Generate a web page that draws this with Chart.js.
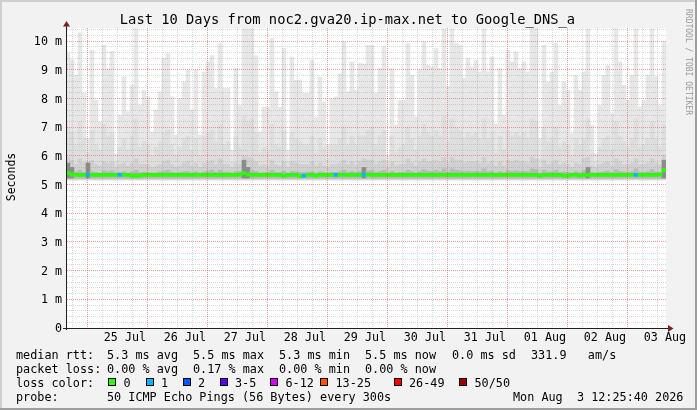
<!DOCTYPE html>
<html><head><meta charset="utf-8">
<script src="https://cdn.jsdelivr.net/npm/chart.js@4/dist/chart.umd.min.js"></script>
<style>
html,body{margin:0;padding:0;background:#f2f2f2;}
#wrap{position:relative;width:697px;height:410px;overflow:hidden;font-family:"DejaVu Sans Mono",monospace;color:#000;}
#c{position:absolute;left:0;top:0;}
.abs{position:absolute;white-space:pre;}
#title{left:0;top:11px;width:695px;text-align:center;font-size:13.75px;line-height:16px;}
.lg{font-size:11.8px;line-height:14px;}
.box{width:6px;height:6px;border:1px solid #000;}
#ylab{left:-39px;top:170px;width:100px;height:14px;line-height:14px;text-align:center;font-size:11.5px;transform:rotate(-90deg);}
#wm{left:638px;top:54px;width:100px;height:10px;line-height:10px;text-align:center;font-size:8px;color:#9a9a9a;transform:rotate(90deg);}
</style></head><body>
<div id="wrap"><canvas id="c" width="697" height="410"></canvas></div>
<script>
// ---- data ----
const titleText = 'Last 10 Days from noc2.gva20.ip-max.net to Google_DNS_a';
const startHours = -(11 + 34/60 + 20/3600);   // Jul 24 12:25:40, hours relative to 25 Jul 00:00
const spanHours = 240;
const stepHours = 1.6;
const dayLabels = ['25 Jul','26 Jul','27 Jul','28 Jul','29 Jul','30 Jul','31 Jul','01 Aug','02 Aug','03 Aug'];
const yTickLabels = ['0','1 m','2 m','3 m','4 m','5 m','6 m','7 m','8 m','9 m','10 m'];

const smokeMax = [
 9.57,9.35,8.81,10.3,8.18,6.61,9.69,7.94,7.19,9.86,
 9.05,9.65,6.08,7.42,8.76,7.54,8.47,10.44,7.77,8.29,
 8.06,6.84,7.6,8.24,9.4,9.57,8.06,6.73,8.0,8.58,
 9.0,7.6,9.0,6.73,8.93,9.28,9.5,8.35,9.92,8.35,
 8.35,6.2,9.05,7.77,10.44,10.44,10.44,9.5,6.84,7.7,
 7.7,10.1,8.24,7.7,9.75,6.2,9.45,8.64,8.64,8.18,
 8.18,9.34,7.36,8.76,7.88,6.4,8.0,8.06,8.87,9.98,
 8.24,9.28,8.29,9.22,9.2,9.86,9.86,8.18,9.05,9.8,
 6.0,9.05,7.07,7.94,7.94,9.92,8.81,7.36,9.0,9.98,
 9.16,9.1,9.75,9.05,10.44,8.41,10.44,9.92,9.86,8.7,
 9.4,9.1,9.34,8.93,10.44,8.93,9.45,7.12,9.05,7.42,
 9.69,9.28,9.63,9.05,9.28,8.93,10.44,10.44,6.61,9.86,
 8.58,8.93,9.92,7.77,8.58,8.29,6.78,8.81,8.29,8.93,
 10.44,7.07,6.08,7.77,8.81,9.16,7.48,10.44,9.28,8.47,
 7.94,8.81,10.44,7.71,7.94,8.81,10.44,8.76,7.77,9.98];
const smokeP90 = [
 7.0,6.8,6.4,7.2,6.6,6.1,6.9,6.4,6.2,7.1,
 6.7,6.8,5.8,6.3,6.6,6.2,6.7,7.3,6.3,6.5,
 6.4,6.0,6.3,6.5,6.8,6.9,6.4,6.0,6.3,6.6,
 6.7,6.2,6.6,6.0,6.7,6.8,6.9,6.5,7.1,6.4,
 6.5,5.8,6.7,6.3,7.4,7.2,7.3,6.8,6.1,6.3,
 6.2,7.1,6.4,6.3,6.9,5.8,6.8,6.6,6.5,6.4,
 6.4,6.7,6.1,6.6,6.3,5.9,6.4,6.4,6.6,7.0,
 6.4,6.7,6.4,6.7,6.7,6.9,7.0,6.4,6.7,6.9,
 5.8,6.7,6.1,6.3,6.4,7.0,6.6,6.2,6.7,7.1,
 6.8,6.7,6.9,6.7,7.4,6.5,7.3,7.0,6.9,6.6,
 6.8,6.7,6.8,6.6,7.3,6.6,6.8,6.1,6.7,6.2,
 6.9,6.7,6.8,6.7,6.8,6.6,7.3,7.2,5.9,7.0,
 6.5,6.6,7.0,6.3,6.5,6.4,6.0,6.6,6.4,6.6,
 7.3,6.1,5.8,6.3,6.6,6.7,6.2,7.2,6.7,6.5,
 6.3,6.6,7.3,6.3,6.4,6.6,7.2,6.6,6.3,7.1];
const smokeP75 = [
 5.95,5.85,5.7,5.9,5.75,5.8,5.85,5.7,5.65,5.8,
 5.75,5.8,5.6,5.7,5.75,5.65,5.75,5.9,5.7,5.7,
 5.7,5.6,5.65,5.7,5.8,5.85,5.7,5.6,5.65,5.75,
 5.8,5.65,5.75,5.6,5.75,5.8,5.85,5.7,5.9,5.7,
 5.7,5.6,5.75,5.7,6.0,5.95,5.9,5.8,5.65,5.7,
 5.65,5.85,5.7,5.65,5.8,5.6,5.8,5.75,5.7,5.7,
 5.7,5.8,5.65,5.75,5.65,5.6,5.7,5.7,5.75,5.85,
 5.7,5.8,5.7,5.8,5.9,5.85,5.85,5.7,5.8,5.85,
 5.6,5.8,5.65,5.7,5.7,5.9,5.75,5.65,5.8,5.9,
 5.8,5.8,5.85,5.8,5.95,5.75,5.95,5.85,5.85,5.75,
 5.8,5.8,5.8,5.75,5.95,5.75,5.8,5.65,5.8,5.65,
 5.85,5.8,5.85,5.8,5.8,5.75,5.95,5.9,5.6,5.85,
 5.7,5.75,5.85,5.7,5.75,5.7,5.6,5.75,5.7,5.9,
 5.95,5.65,5.6,5.7,5.75,5.8,5.65,5.9,5.8,5.7,
 5.7,5.75,5.9,5.7,5.7,5.75,5.9,5.75,5.7,6.0];
const smokeP60 = [
 5.75,5.6,5.45,5.5,5.42,5.75,5.45,5.42,5.4,5.48,
 5.45,5.48,5.4,5.42,5.45,5.4,5.44,5.5,5.42,5.43,
 5.42,5.4,5.41,5.44,5.47,5.5,5.43,5.4,5.42,5.45,
 5.46,5.41,5.45,5.4,5.44,5.47,5.5,5.43,5.5,5.43,
 5.44,5.4,5.46,5.45,5.85,5.6,5.5,5.46,5.4,5.42,
 5.42,5.5,5.43,5.42,5.47,5.4,5.46,5.44,5.43,5.43,
 5.43,5.46,5.41,5.44,5.42,5.4,5.43,5.43,5.45,5.5,
 5.43,5.46,5.43,5.46,5.6,5.48,5.5,5.43,5.46,5.5,
 5.4,5.46,5.41,5.43,5.43,5.5,5.45,5.41,5.46,5.52,
 5.47,5.46,5.5,5.46,5.55,5.44,5.55,5.5,5.48,5.45,
 5.47,5.46,5.47,5.45,5.55,5.45,5.47,5.41,5.46,5.42,
 5.48,5.46,5.48,5.46,5.47,5.45,5.55,5.52,5.4,5.5,
 5.44,5.45,5.5,5.42,5.44,5.43,5.4,5.45,5.43,5.5,
 5.6,5.42,5.4,5.43,5.45,5.47,5.42,5.52,5.46,5.44,
 5.43,5.45,5.55,5.43,5.43,5.45,5.52,5.45,5.43,5.85];
const medianRtt = [
 5.40,5.35,5.34,5.34,5.34,5.34,5.34,5.34,5.34,5.34,
 5.34,5.34,5.34,5.34,5.34,5.34,5.31,5.31,5.32,5.34,
 5.34,5.34,5.34,5.34,5.34,5.34,5.34,5.34,5.34,5.34,
 5.34,5.34,5.34,5.34,5.34,5.34,5.34,5.34,5.34,5.34,
 5.34,5.34,5.34,5.35,5.40,5.35,5.34,5.34,5.34,5.34,
 5.34,5.34,5.34,5.34,5.31,5.34,5.34,5.34,5.30,5.31,
 5.34,5.34,5.31,5.34,5.34,5.34,5.34,5.34,5.34,5.34,
 5.34,5.34,5.34,5.34,5.34,5.35,5.34,5.34,5.34,5.34,
 5.34,5.34,5.34,5.34,5.34,5.34,5.34,5.34,5.34,5.34,
 5.34,5.34,5.34,5.34,5.34,5.34,5.34,5.34,5.34,5.34,
 5.34,5.34,5.34,5.34,5.34,5.34,5.34,5.34,5.34,5.34,
 5.34,5.34,5.34,5.34,5.34,5.34,5.34,5.34,5.31,5.34,
 5.34,5.34,5.34,5.34,5.31,5.31,5.34,5.34,5.31,5.34,
 5.34,5.34,5.34,5.34,5.34,5.34,5.34,5.34,5.34,5.34,
 5.34,5.34,5.34,5.34,5.34,5.34,5.34,5.34,5.35,5.50];
const smokeFloor = [5.15, 5.17, 5.19, 5.23];   // lower edge of the four smoke bands
const lossCols = [5, 13, 59, 67, 74, 142];
const lossCounts = [1, 1, 1, 1, 1, 1];
const lossBuckets = [0, 1, 2, 3, 6, 13, 26, 50];
const lossLabels = ['0','1','2','3-5','6-12','13-25','26-49','50/50'];
const lossColors = ['#26ff00','#00b8ff','#0059ff','#5e00ff','#dd00ff','#ff5500','#ff0000','#a10000'];

const rttStats = ['5.3 ms avg','5.5 ms max','5.3 ms min','5.5 ms now','0.0 ms sd','331.9   am/s'];
const lossStats = ['0.00 % avg','0.17 % max','0.00 % min','0.00 % now'];
const probeText = '50 ICMP Echo Pings (56 Bytes) every 300s';
const stampText = 'Mon Aug  3 12:25:40 2026';

// ---- derived tables ----
const N = smokeMax.length;
const colX = smokeMax.map((_, i) => startHours + stepHours * (i + 0.5));
const lossPerCol = new Array(N).fill(0);
lossCols.forEach((c, j) => { lossPerCol[c] = lossCounts[j]; });
function lossColor(n) { let k = 0; for (let j = 0; j < lossBuckets.length; j++) if (n >= lossBuckets[j]) k = j; return lossColors[k]; }
const band = (arr, floor) => arr.map((v, i) => ({x: colX[i], y: [floor, v]}));

const majorGrid = 'rgba(222,80,80,0.55)';
const minorGrid = 'rgba(143,143,143,0.34)';
const monoFont = 'DejaVu Sans Mono';

const barBase = {type: 'bar', grouped: false, borderWidth: 0, barPercentage: 1, categoryPercentage: 1};

const frame = {
  id: 'frame',
  beforeDraw(chart) {
    const {ctx, chartArea: a} = chart;
    ctx.save();
    ctx.fillStyle = '#f2f2f2'; ctx.fillRect(0, 0, chart.width, chart.height);
    ctx.fillStyle = '#cfcfcf'; ctx.fillRect(0, 0, chart.width, 2); ctx.fillRect(0, 0, 2, chart.height);
    ctx.fillStyle = '#9e9e9e'; ctx.fillRect(0, chart.height - 2, chart.width, 2); ctx.fillRect(chart.width - 2, 0, 2, chart.height);
    ctx.fillStyle = '#ffffff'; ctx.fillRect(a.left, a.top, a.right - a.left, a.bottom - a.top);
    ctx.restore();
  },
  afterDraw(chart) {
    const {ctx, chartArea: a} = chart;
    const x0 = Math.round(a.left) + 0.5, y0 = Math.round(chart.scales.y.getPixelForValue(0)) + 0.5;
    ctx.save();
    ctx.strokeStyle = '#1f1f1f'; ctx.lineWidth = 1;
    ctx.beginPath(); ctx.moveTo(a.left - 3, y0); ctx.lineTo(a.right + 3, y0); ctx.stroke();
    ctx.beginPath(); ctx.moveTo(x0, a.bottom + 2); ctx.lineTo(x0, a.top - 3); ctx.stroke();
    ctx.fillStyle = '#7f1f1f';
    ctx.beginPath(); ctx.moveTo(x0 - 3.5, a.top - 1.5); ctx.lineTo(x0 + 3.5, a.top - 1.5); ctx.lineTo(x0, a.top - 7); ctx.closePath(); ctx.fill();
    ctx.beginPath(); ctx.moveTo(a.right + 2, y0 - 3.5); ctx.lineTo(a.right + 2, y0 + 3.5); ctx.lineTo(a.right + 7.5, y0); ctx.closePath(); ctx.fill();
    ctx.restore();
  }
};

new Chart(document.getElementById('c'), {
  type: 'bar',
  data: {
    datasets: [
      Object.assign({}, barBase, {label: 'median', order: 1, data: medianRtt.map((v, i) => ({x: colX[i], y: [v - 0.055, v + 0.055]})),
        backgroundColor: ctx => lossColor(lossPerCol[ctx.dataIndex] || 0)}),
      Object.assign({}, barBase, {label: 'p60', order: 3, data: band(smokeP60, smokeFloor[3]),
        backgroundColor: ctx => (smokeP60[ctx.dataIndex] > 5.55 ? '#8c8c8c' : '#b9b9b9')}),
      Object.assign({}, barBase, {label: 'p75', order: 4, data: band(smokeP75, smokeFloor[2]), backgroundColor: '#d0d0d0'}),
      Object.assign({}, barBase, {label: 'p90', order: 5, data: band(smokeP90, smokeFloor[1]), backgroundColor: '#dedede'}),
      Object.assign({}, barBase, {label: 'max', order: 6, data: band(smokeMax, smokeFloor[0]), backgroundColor: '#e7e7e7'})
    ]
  },
  options: {
    responsive: false, animation: false, devicePixelRatio: 1, events: [],
    layout: {padding: {left: 0, top: 28, right: 31, bottom: 0}},
    plugins: {legend: {display: false}, tooltip: {enabled: false}, title: {display: false}},
    scales: {
      x: {
        type: 'linear', min: startHours, max: startHours + spanHours, offset: false,
        afterFit: s => { s.height = 82; },
        afterBuildTicks: s => { const t = []; for (let h = -6; h <= 228; h += 6) t.push({value: h}); s.ticks = t; },
        ticks: {autoSkip: false, maxRotation: 0, minRotation: 0, padding: 3, color: '#000',
          font: {family: monoFont, size: 11.7},
          callback: v => { const k = (v - 12) / 24; return (Number.isInteger(k) && dayLabels[k]) ? dayLabels[k] : ''; }},
        grid: {z: 1, drawTicks: false, lineWidth: 1,
          color: ctx => (ctx.tick && ctx.tick.value % 24 === 0) ? majorGrid : minorGrid},
        border: {display: true, color: '#1f1f1f', width: 1, dash: [1, 1], z: 2}
      },
      y: {
        type: 'linear', min: 0, max: 10.46, stacked: false,
        afterFit: s => { s.width = 66; },
        afterBuildTicks: s => { const t = []; for (let k = 0; k <= 52; k++) t.push({value: k / 5}); s.ticks = t; },
        ticks: {autoSkip: false, padding: 4, labelOffset: 1, color: '#000', font: {family: monoFont, size: 11.7},
          callback: v => { const k = Math.round(v * 5); return k % 5 === 0 ? yTickLabels[k / 5] : ''; }},
        grid: {z: 1, drawTicks: false, lineWidth: 1,
          color: ctx => { if (!ctx.tick) return minorGrid; const k = Math.round(ctx.tick.value * 5);
            return k === 0 ? 'rgba(0,0,0,0)' : (k % 5 === 0 ? majorGrid : minorGrid); }},
        border: {display: true, color: '#1f1f1f', width: 1, dash: [1, 1], z: 2}
      }
    }
  },
  plugins: [frame]
});

// ---- text overlays ----
const wrap = document.getElementById('wrap');
function addText(cls, text, x, y, id) {
  const d = document.createElement('div');
  d.className = 'abs ' + cls; d.textContent = text;
  if (id) d.id = id;
  if (x !== null) d.style.left = x + 'px';
  if (y !== null) d.style.top = y + 'px';
  wrap.appendChild(d); return d;
}
addText('', titleText, null, null, 'title');
addText('', 'Seconds', null, null, 'ylab');
addText('', 'RRDTOOL / TOBI OETIKER', null, null, 'wm');
const rowTop = [347.9, 361.9, 375.9, 389.9];
const statX = [107, 193, 279, 365, 452, 531];
addText('lg', 'median rtt:', 16, rowTop[0]);
rttStats.forEach((s, i) => addText('lg', s, statX[i], rowTop[0]));
addText('lg', 'packet loss:', 16, rowTop[1]);
lossStats.forEach((s, i) => addText('lg', s, statX[i], rowTop[1]));
addText('lg', 'loss color:', 16, rowTop[2]);
const boxX = [108, 145.5, 182.5, 219.5, 270, 320, 393.5, 459];
lossLabels.forEach((lab, i) => {
  const b = document.createElement('div');
  b.className = 'abs box'; b.style.left = boxX[i] + 'px'; b.style.top = '378px'; b.style.background = lossColors[i];
  wrap.appendChild(b);
  addText('lg', lab, boxX[i] + 15.5, rowTop[2]);
});
addText('lg', 'probe:', 16, rowTop[3]);
addText('lg', probeText, 107, rowTop[3]);
addText('lg', stampText, 513, rowTop[3]);
</script>
</body></html>
